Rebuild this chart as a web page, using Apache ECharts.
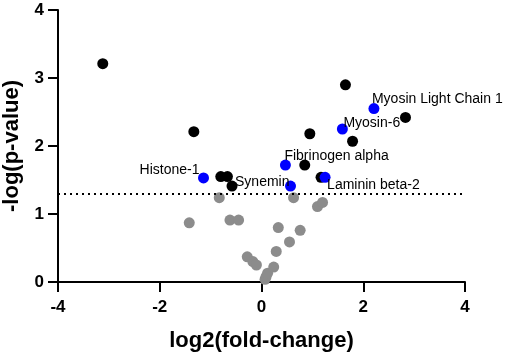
<!DOCTYPE html>
<html>
<head>
<meta charset="utf-8">
<script src="https://cdn.jsdelivr.net/npm/echarts@6/dist/echarts.min.js"></script>
<style>
html,body{margin:0;padding:0;background:#fff;}
#chart{width:505px;height:355px;}
</style>
</head>
<body>
<div id="chart"></div>
<script>
// Data
var xTicks = [-4, -2, 0, 2, 4];
var yTicks = [0, 1, 2, 3, 4];
var threshold = 1.3;

var grayPoints = [
  [-1.42, 0.87], [-0.83, 1.24], [-0.62, 0.91], [-0.45, 0.91],
  [-0.28, 0.37], [-0.17, 0.30], [-0.10, 0.25], [0.07, 0.04],
  [0.09, 0.08], [0.12, 0.13], [0.24, 0.22], [0.29, 0.45],
  [0.33, 0.80], [0.55, 0.59], [0.63, 1.24], [0.76, 0.76],
  [1.10, 1.11], [1.20, 1.17]
];

var blackPoints = [
  [-3.12, 3.21], [-1.33, 2.21], [-0.80, 1.55], [-0.67, 1.55],
  [-0.58, 1.41], [0.85, 1.72], [0.95, 2.18], [1.17, 1.54],
  [1.65, 2.90], [1.79, 2.07], [2.83, 2.42]
];

var blueNames = ['Histone-1', 'Synemin', 'Fibrinogen alpha', 'Laminin beta-2', 'Myosin-6', 'Myosin Light Chain 1'];
var blueX = [-1.14, 0.57, 0.47, 1.25, 1.59, 2.21];
var blueY = [1.53, 1.41, 1.72, 1.54, 2.25, 2.55];

// label placement (style only)
var labelPlace = {
  'Histone-1': {align: 'right', offset: [-4, -8]},
  'Synemin': {align: 'right', offset: [-1, -4]},
  'Fibrinogen alpha': {align: 'left', offset: [-1, -9]},
  'Laminin beta-2': {align: 'left', offset: [2, 8]},
  'Myosin-6': {align: 'left', offset: [1, -6]},
  'Myosin Light Chain 1': {align: 'left', offset: [-2, -9]}
};

var blueData = blueNames.map(function (n, i) {
  var p = labelPlace[n];
  return {
    name: n,
    value: [blueX[i], blueY[i]],
    label: {
      show: true,
      position: 'inside',
      align: p.align,
      verticalAlign: 'middle',
      offset: p.offset,
      formatter: n,
      color: '#000',
      fontSize: 14,
      fontFamily: 'Liberation Sans, Arial, sans-serif'
    }
  };
});

var chart = echarts.init(document.getElementById('chart'), null, {renderer: 'canvas'});
var axisFont = 'Liberation Sans, Arial, sans-serif';
chart.setOption({
  animation: false,
  backgroundColor: '#fff',
  grid: {left: 58, right: 40, top: 10, bottom: 73, containLabel: false, outerBoundsMode: 'none'},
  xAxis: {
    type: 'value',
    min: xTicks[0], max: xTicks[xTicks.length - 1], interval: 2,
    name: 'log2(fold-change)',
    nameLocation: 'middle',
    nameGap: 48,
    nameTextStyle: {fontSize: 22, fontWeight: 'bold', color: '#000', fontFamily: axisFont},
    axisLine: {show: true, onZero: false, lineStyle: {color: '#000', width: 2}},
    axisTick: {show: true, length: 10, lineStyle: {color: '#000', width: 2}},
    axisLabel: {fontSize: 17, fontWeight: 'bold', color: '#000', margin: 17, fontFamily: axisFont},
    splitLine: {show: false}
  },
  yAxis: {
    type: 'value',
    min: yTicks[0], max: yTicks[yTicks.length - 1], interval: 1,
    name: '-log(p-value)',
    nameLocation: 'middle',
    nameGap: 35,
    nameTextStyle: {fontSize: 22, fontWeight: 'bold', color: '#000', fontFamily: axisFont},
    axisLine: {show: true, onZero: false, lineStyle: {color: '#000', width: 2}},
    axisTick: {show: true, length: 10, lineStyle: {color: '#000', width: 2}},
    axisLabel: {fontSize: 17, fontWeight: 'bold', color: '#000', margin: 14, fontFamily: axisFont},
    splitLine: {show: false}
  },
  series: [
    {
      type: 'scatter',
      data: grayPoints,
      symbolSize: 11,
      itemStyle: {color: '#8c8c8c', opacity: 1},
      z: 2,
      markLine: {
        silent: true,
        symbol: ['none', 'none'],
        label: {show: false},
        lineStyle: {color: '#000', type: [2, 4], width: 2},
        data: [{yAxis: threshold}]
      }
    },
    {
      type: 'scatter',
      data: blackPoints,
      symbolSize: 11,
      itemStyle: {color: '#000', opacity: 1},
      z: 3
    },
    {
      type: 'scatter',
      data: blueData,
      symbolSize: 11,
      itemStyle: {color: '#0000ff', opacity: 1},
      z: 4
    }
  ]
});
</script>
</body>
</html>
